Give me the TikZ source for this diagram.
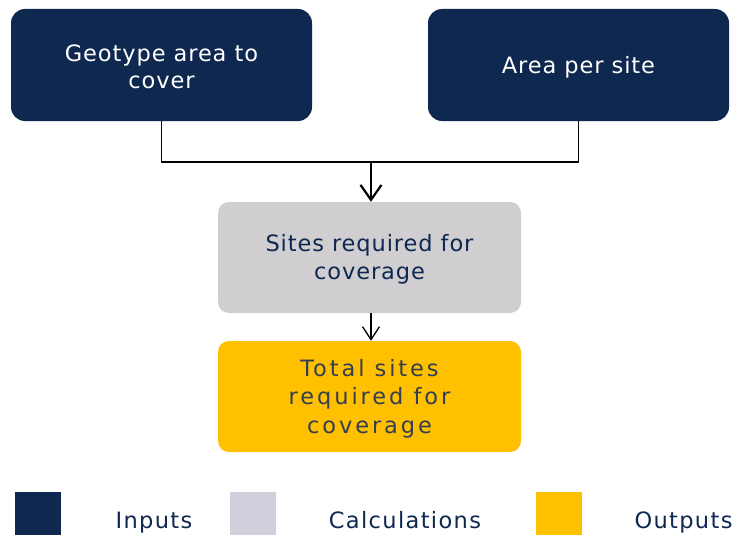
\documentclass[tikz,border=0pt]{standalone}
\usepackage{fontspec}
\setmainfont{DejaVu Sans}
\newfontfamily\boxfont[LetterSpace=4]{DejaVu Sans}
\newfontfamily\outfont[LetterSpace=13]{DejaVu Sans}
\newfontfamily\legfont[LetterSpace=6]{DejaVu Sans}
\usetikzlibrary{arrows.meta}
\definecolor{navy}{HTML}{0F2850}
\definecolor{calcgray}{HTML}{D0CED0}
\definecolor{leggray}{HTML}{D0D0DC}
\definecolor{outyellow}{HTML}{FFC000}
\definecolor{outtext}{HTML}{333F50}
\begin{document}
\begin{tikzpicture}[x=1pt,y=-1pt,
  inbox/.style={fill=navy, rounded corners=14pt, minimum width=301pt, minimum height=112pt, inner sep=0pt},
  calcbox/.style={fill=calcgray, rounded corners=11pt, minimum width=303pt, minimum height=111pt, inner sep=0pt},
  outbox/.style={fill=outyellow, rounded corners=11pt, minimum width=303pt, minimum height=111pt, inner sep=0pt},
  intext/.style={text=white, align=center, font=\boxfont\fontsize{22.5}{27.5}\selectfont, inner sep=0pt},
  calctext/.style={text=navy, align=center, font=\boxfont\fontsize{22.5}{27.5}\selectfont, inner sep=0pt},
  outtxt/.style={text=outtext, align=center, font=\outfont\fontsize{22.5}{28.5}\selectfont, inner sep=0pt},
  legsq/.style={minimum width=46pt, minimum height=43pt, inner sep=0pt},
  legtext/.style={text=navy, anchor=base, font=\legfont\fontsize{22.5}{25}\selectfont, inner sep=0pt},
  conn/.style={line width=1.8pt, black},
  bigarrow/.style={line width=2.6pt, black, -{Straight Barb[length=15pt, width=21pt, line width=2.2pt]}},
  smallarrow/.style={line width=1.3pt, black, -{Straight Barb[length=13pt, width=17pt, line width=1.3pt]}}
]
\useasboundingbox (0,0) rectangle (734,535);
\fill[white] (0,0) rectangle (734,535);

\node[inbox] (a) at (161.5,65) {};
\node[inbox] (b) at (578.5,65) {};
\node[calcbox] (c) at (369.5,257.5) {};
\node[outbox] (d) at (369.5,396.5) {};
\node[intext] (at) at ([yshift=-2pt]a.center) {Geotype area to\\cover};
\node[intext] (bt) at ([yshift=-2pt]b.center) {Area per site};
\node[calctext] (ct) at ([yshift=-2pt]c.center) {Sites required for\\coverage};
\node[outtxt] (dt) at ([yshift=-2pt]d.center) {Total sites\\required for\\coverage};

\coordinate (j) at (371,162);
\draw[conn] (a.south) |- (j) -| (b.south);
\draw[bigarrow] (j) -- (j |- c.north);
\draw[smallarrow] (c.south -| j) -- (d.north -| j);

\node[legsq, fill=navy] (l1) at (38,513.5) {};
\node[legsq, fill=leggray] (l2) at (253,513.5) {};
\node[legsq, fill=outyellow] (l3) at (559,513.5) {};
\node[legtext] (t1) at (154,528) {Inputs};
\node[legtext] (t2) at (405,528) {Calculations};
\node[legtext] (t3) at (683.5,528) {Outputs};
\end{tikzpicture}
\end{document}
